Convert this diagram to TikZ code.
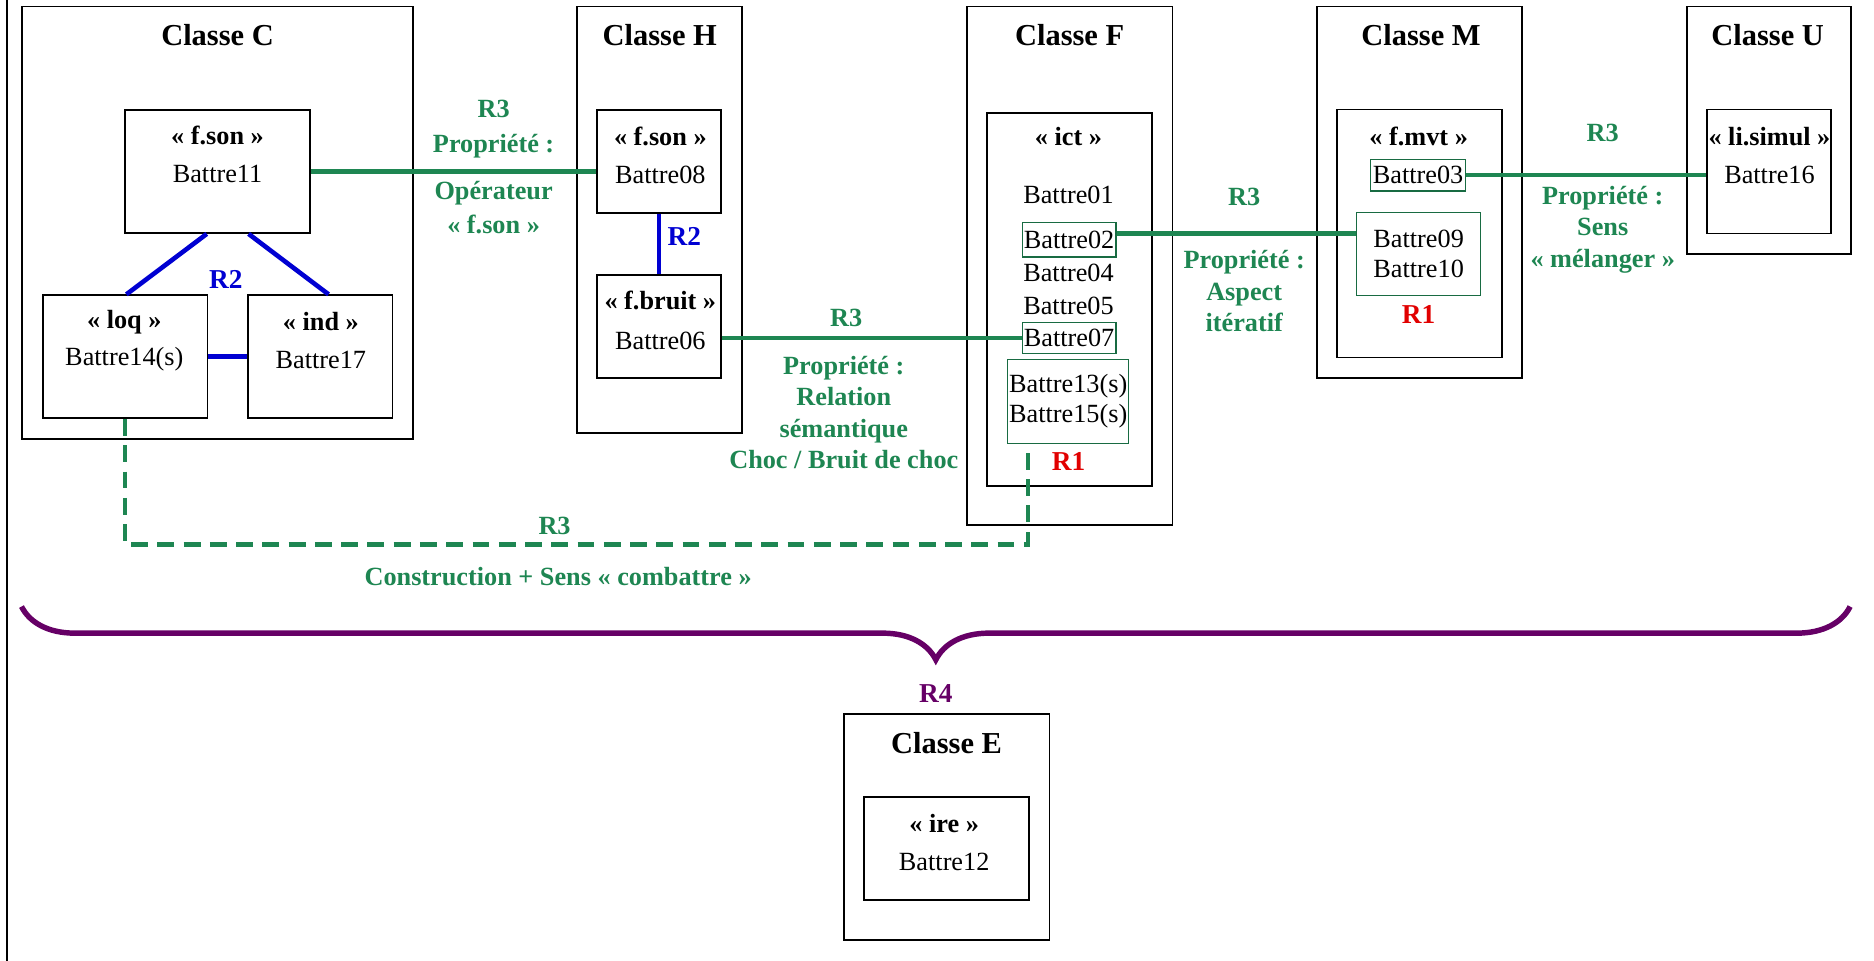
\documentclass[tikz,border=0pt]{standalone}
\usepackage{fontspec}
\setmainfont{Liberation Serif}
\usetikzlibrary{decorations.pathreplacing}

\definecolor{relgreen}{RGB}{30,134,82}
\definecolor{relblue}{RGB}{0,0,210}
\definecolor{relred}{RGB}{225,0,0}
\definecolor{relpurple}{RGB}{102,0,102}

\begin{document}
\begin{tikzpicture}[
  font=\fontsize{12.5}{15}\selectfont,
  classbox/.style={draw, line width=0.8pt, inner sep=0pt},
  catbox/.style={draw, line width=0.8pt, inner sep=0pt},
  itembox/.style={draw=relgreen!80!black, line width=0.6pt, inner sep=0pt, align=center},
  title/.style={font=\fontsize{14.5}{17}\selectfont\bfseries, inner sep=0pt},
  entry/.style={align=center, inner sep=0pt},
  rel/.style={font=\fontsize{12.5}{15}\selectfont\bfseries, text=relgreen, align=center, inner sep=0pt},
  rlab/.style={font=\fontsize{13}{15}\selectfont\bfseries, inner sep=0pt},
  r2line/.style={draw=relblue, line width=2.2pt},
  r3line/.style={draw=relgreen, line width=2.1pt},
  r3dash/.style={draw=relgreen, line width=2.1pt, dash pattern=on 8pt off 4.5pt},
  r4brace/.style={draw=relpurple, line width=2.6pt, decorate,
    decoration={brace, mirror, amplitude=0.89cm}},
]
  \useasboundingbox (0,0) rectangle (31.36,-16.08);
  \draw[line width=0.8pt] (0.117,0) -- (0.117,-16.08);

  % Classe C
  \node[classbox, minimum width=6.55cm, minimum height=7.24cm] (classC) at (3.64,-3.73) {};
  \node[title] (titleC) at (3.64,-0.58) {Classe C};
  \node[catbox, minimum width=3.09cm, minimum height=2.06cm] (fsonC) at (3.64,-2.87) {};
  \node[entry] (fsonCt) at (3.64,-2.59) {\textbf{« f.son »}\\[3pt]Battre11};
  \node[catbox, minimum width=2.75cm, minimum height=2.06cm] (loq) at (2.095,-5.97) {};
  \node[entry] (loqt) at (2.08,-5.70) {\textbf{« loq »}\\[3pt]Battre14(s)};
  \node[catbox, minimum width=2.42cm, minimum height=2.06cm] (ind) at (5.358,-5.97) {};
  \node[entry] (indt) at (5.37,-5.70) {\textbf{« ind »}\\[3pt]Battre17};

  % Classe H
  \node[classbox, minimum width=2.76cm, minimum height=7.14cm] (classH) at (11.04,-3.68) {};
  \node[title] (titleH) at (11.04,-0.58) {Classe H};
  \node[catbox, minimum width=2.07cm, minimum height=1.72cm] (fsonH) at (11.03,-2.70) {};
  \node[entry] (fsonHt) at (11.05,-2.60) {\textbf{« f.son »}\\[3pt]Battre08};
  \node[catbox, minimum width=2.07cm, minimum height=1.72cm] (fbruit) at (11.03,-5.46) {};
  \node[entry] (fbruitt) at (11.05,-5.355) {\textbf{« f.bruit »}\\[4pt]Battre06};

  % Classe F
  \node[classbox, minimum width=3.44cm, minimum height=8.68cm] (classF) at (17.90,-4.45) {};
  \node[title] (titleF) at (17.90,-0.58) {Classe F};
  \node[catbox, minimum width=2.76cm, minimum height=6.24cm] (ict) at (17.90,-5.015) {};
  \node[entry] (ictt) at (17.88,-2.29) {\textbf{« ict »}};
  \node[entry] (b01) at (17.88,-3.26) {Battre01};
  \node[itembox, minimum width=1.57cm, minimum height=0.58cm] (b02) at (17.89,-4.01) {Battre02};
  \node[entry] (b04) at (17.88,-4.57) {Battre04};
  \node[entry] (b05) at (17.88,-5.12) {Battre05};
  \node[itembox, minimum width=1.57cm, minimum height=0.52cm] (b07) at (17.89,-5.66) {Battre07};
  \node[itembox, minimum width=2.02cm, minimum height=1.40cm] (b1315) at (17.875,-6.72)
    {Battre13(s)\\[-0.8pt]Battre15(s)};

  % Classe M
  \node[classbox, minimum width=3.43cm, minimum height=6.21cm] (classM) at (23.75,-3.216) {};
  \node[title] (titleM) at (23.78,-0.58) {Classe M};
  \node[catbox, minimum width=2.76cm, minimum height=4.15cm] (fmvt) at (23.75,-3.905) {};
  \node[entry] (fmvtt) at (23.74,-2.28) {\textbf{« f.mvt »}};
  \node[itembox, minimum width=1.58cm, minimum height=0.53cm] (b03) at (23.73,-2.93) {Battre03};
  \node[itembox, minimum width=2.08cm, minimum height=1.39cm] (b0910) at (23.74,-4.25)
    {Battre09\\[-0.8pt]Battre10};

  % Classe U
  \node[classbox, minimum width=2.75cm, minimum height=4.14cm] (classU) at (29.60,-2.18) {};
  \node[title] (titleU) at (29.58,-0.58) {Classe U};
  \node[catbox, minimum width=2.07cm, minimum height=2.08cm] (lisimul) at (29.60,-2.87) {};
  \node[entry] (lisimult) at (29.61,-2.60) {\textbf{« li.simul »}\\[3pt]Battre16};

  % Classe E
  \node[classbox, minimum width=3.44cm, minimum height=3.78cm] (classE) at (15.84,-13.84) {};
  \node[title] (titleE) at (15.84,-12.43) {Classe E};
  \node[catbox, minimum width=2.76cm, minimum height=1.73cm] (ire) at (15.84,-14.20) {};
  \node[entry] (iret) at (15.80,-14.10) {\textbf{« ire »}\\[3pt]Battre12};

  % R2 links
  \draw[r2line] ([xshift=-0.18cm]fsonC.south) -- ([xshift=0.02cm]loq.north);
  \draw[r2line] ([xshift=0.52cm]fsonC.south) -- ([xshift=0.14cm]ind.north);
  \draw[r2line] (loq) -- (ind);
  \draw[r2line] (fsonH) -- (fbruit);
  \node[rlab, text=relblue] (r2c) at (3.78,-4.68) {R2};
  \node[rlab, text=relblue] (r2h) at (11.45,-3.96) {R2};

  % R1 labels
  \node[rlab, text=relred] (r1f) at (17.88,-7.72) {R1};
  \node[rlab, text=relred] (r1m) at (23.74,-5.27) {R1};

  % R3 links
  \draw[r3line] (fsonC.east) -- (fsonC.east -| fsonH.west);
  \node[rel] (r3a) at (8.26,-2.16) {R3\\[1.5pt]Propriété :};
  \node[rel] (r3at) at (8.26,-3.47) {Opérateur\\[1pt]« f.son »};

  \draw[r3line] (b07.west -| fbruit.east) -- (b07.west);
  \node[rel] (r3b) at (14.16,-5.32) {R3};
  \node[rel] (r3bt) at (14.12,-6.90) {Propriété :\\Relation\\sémantique\\Choc / Bruit de choc};

  \draw[r3line] ([yshift=0.1cm]b02.east) -- ([yshift=0.1cm]b02.east -| b0910.west);
  \node[rel] (r3c) at (20.82,-3.29) {R3};
  \node[rel] (r3ct) at (20.82,-4.87) {Propriété :\\Aspect\\itératif};

  \draw[r3line] (b03.east) -- (b03.east -| lisimul.west);
  \node[rel] (r3d) at (26.82,-2.23) {R3};
  \node[rel] (r3dt) at (26.82,-3.84) {Propriété :\\Sens\\« mélanger »};

  \coordinate (dcorner) at (17.20,-9.11);
  \draw[r3dash] (loq.south) |- (dcorner) -- (dcorner |- b1315.south);
  \node[rel] (r3e) at (9.28,-8.80) {R3};
  \node[rel] (r3et) at (9.34,-9.65) {Construction + Sens « combattre »};

  % R4 brace
  \coordinate (braceL) at (0.36,-10.15);
  \coordinate (braceR) at (30.96,-10.15);
  \draw[r4brace] (braceL) -- (braceR);
  \node[rlab, text=relpurple] (r4) at (15.66,-11.60) {R4};

\end{tikzpicture}
\end{document}
